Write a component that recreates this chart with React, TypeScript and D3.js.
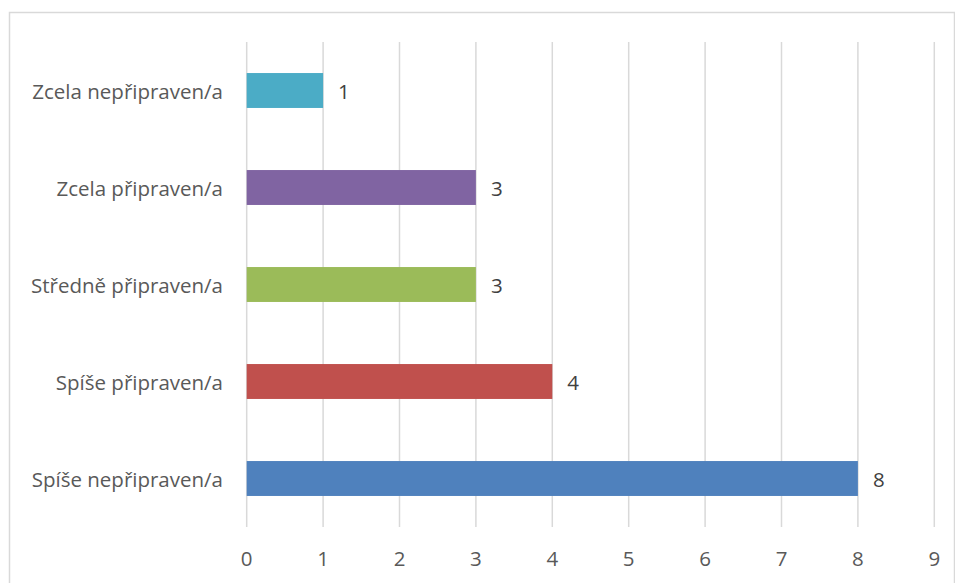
import React from "react";
import * as d3 from "d3";

const categories = [
  "Zcela nepřipraven/a",
  "Zcela připraven/a",
  "Středně připraven/a",
  "Spíše připraven/a",
  "Spíše nepřipraven/a",
];
const values = [1, 3, 3, 4, 8];
const colors = ["#4BACC6", "#8064A2", "#9BBB59", "#C0504D", "#4F81BD"];
const ticks = [0, 1, 2, 3, 4, 5, 6, 7, 8, 9];

const W = 955;
const H = 583;
const font = "'Open Sans', sans-serif";
const fs = 20.5;

const App = () => {
  const x = d3.scaleLinear().domain([0, 9]).range([246.7, 934.3]);
  const y = d3
    .scaleBand()
    .domain(categories)
    .range([42, 527])
    .paddingInner(0.64)
    .paddingOuter(0.32);

  return (
    <svg
      width={W}
      height={H}
      style={{ position: "absolute", left: 0, top: 0, background: "#fff" }}
      fontFamily={font}
    >
      <rect x={9.5} y={12.5} width={945} height={580} fill="#fff" stroke="#d9d9d9" strokeWidth={1.5} />
      {ticks.map((t) => (
        <g key={t}>
          <line x1={x(t)} x2={x(t)} y1={42} y2={527} stroke="#d9d9d9" strokeWidth={1.5} />
          <text x={x(t)} y={558} textAnchor="middle" dominantBaseline="central" fontSize={fs} fill="#595959">
            {t}
          </text>
        </g>
      ))}
      {categories.map((c, i) => {
        const yy = y(c)!;
        const bw = y.bandwidth();
        return (
          <g key={c}>
            <rect x={x(0)} y={yy} width={x(values[i]) - x(0)} height={bw} fill={colors[i]} />
            <text x={223} y={yy + bw / 2} textAnchor="end" dominantBaseline="central" fontSize={fs} fill="#595959">
              {c}
            </text>
            <text x={x(values[i]) + 15} y={yy + bw / 2} dominantBaseline="central" fontSize={fs} fill="#404040">
              {values[i]}
            </text>
          </g>
        );
      })}
    </svg>
  );
};

export default App;
